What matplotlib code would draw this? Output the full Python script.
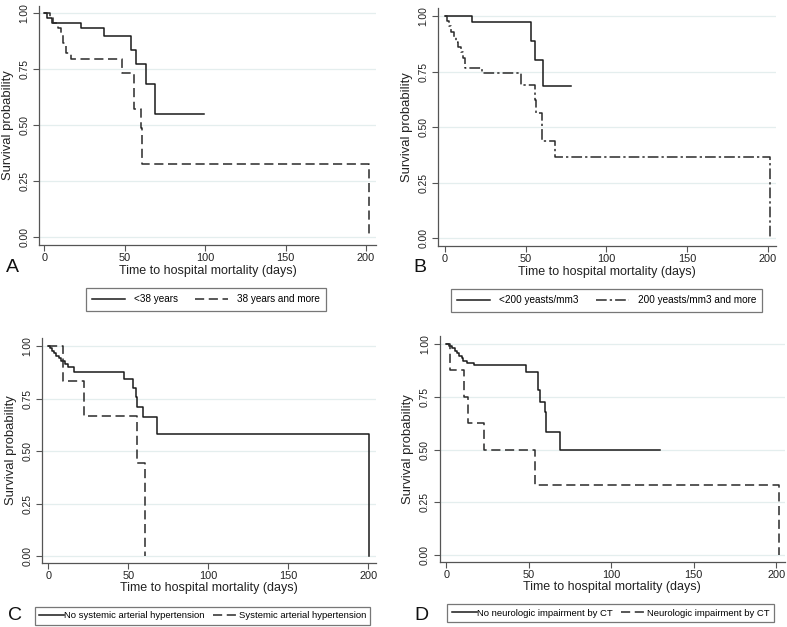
import matplotlib
matplotlib.use("Agg")
import matplotlib.pyplot as plt
from matplotlib.lines import Line2D

plt.rcParams['font.family'] = ['Liberation Sans', 'DejaVu Sans']

# ---------------- data ----------------
A_young_t = [0, 1.5, 5, 23, 37, 54, 57, 63, 69, 99]
A_young_s = [1.0, 0.978, 0.955, 0.933, 0.90, 0.836, 0.772, 0.686, 0.549, 0.549]
A_old_t = [0, 3.5, 5.6, 8.7, 10.2, 11.8, 13.5, 16.4, 48, 56, 60, 61, 202]
A_old_s = [1.0, 0.978, 0.956, 0.933, 0.91, 0.866, 0.821, 0.797, 0.735, 0.572, 0.49, 0.327, 0.0]

B_low_t = [0, 17, 53.6, 55.7, 60.8, 78]
B_low_s = [1.0, 0.975, 0.888, 0.80, 0.685, 0.685]
B_high_t = [0, 1.2, 2.5, 4, 5.5, 7, 8.5, 10, 11.5, 12.6, 23, 47.5, 55.7, 56.7, 60.2, 68.5, 201.5]
B_high_s = [1.0, 0.976, 0.953, 0.93, 0.906, 0.883, 0.86, 0.836, 0.813, 0.766, 0.742, 0.69, 0.622, 0.563, 0.438, 0.367, 0.0]

C_no_t = [0, 1, 2, 3.4, 5, 6.7, 8.1, 10.2, 12.3, 15.8, 47.5, 53, 54.8, 55.5, 59, 67.7, 200.4]
C_no_s = [1.0, 0.989, 0.978, 0.965, 0.952, 0.941, 0.929, 0.914, 0.898, 0.878, 0.843, 0.80, 0.755, 0.711, 0.66, 0.579, 0.0]
C_yes_t = [0, 9.4, 22.5, 55.2, 60.4]
C_yes_s = [1.0, 0.833, 0.667, 0.444, 0.0]

D_no_t = [0, 1.8, 3.2, 5.3, 6.7, 7.9, 9.3, 10.3, 12.3, 16.8, 48, 55.8, 56.5, 59.6, 60.6, 68.7, 129.3]
D_no_s = [1.0, 0.99, 0.981, 0.967, 0.956, 0.943, 0.932, 0.92, 0.912, 0.902, 0.869, 0.78, 0.727, 0.68, 0.585, 0.498, 0.498]
D_yes_t = [0, 2, 10.7, 13, 22.8, 54, 201.4]
D_yes_s = [1.0, 0.875, 0.75, 0.625, 0.5, 0.333, 0.0]

x_ticks = [0, 50, 100, 150, 200]
y_ticks = [0.0, 0.25, 0.5, 0.75, 1.0]
y_ticklabels = ["0.00", "0.25", "0.50", "0.75", "1.00"]
x_label = "Time to hospital mortality (days)"
y_label = "Survival probability"

panels = [
    dict(letter="A",
         series=[(A_young_t, A_young_s, "<38 years", "solid"),
                 (A_old_t, A_old_s, "38 years and more", "dash")]),
    dict(letter="B",
         series=[(B_low_t, B_low_s, "<200 yeasts/mm3", "solid"),
                 (B_high_t, B_high_s, "200 yeasts/mm3 and more", "dashdot")]),
    dict(letter="C",
         series=[(C_no_t, C_no_s, "No systemic arterial hypertension", "solid"),
                 (C_yes_t, C_yes_s, "Systemic arterial hypertension", "dash")]),
    dict(letter="D",
         series=[(D_no_t, D_no_s, "No neurologic impairment by CT", "solid"),
                 (D_yes_t, D_yes_s, "Neurologic impairment by CT", "dash")]),
]

# ---------------- layout (pixels) ----------------
W, H = 787, 627
fig = plt.figure(figsize=(W / 100, H / 100), dpi=100)
fig.patch.set_facecolor("white")

# left, right, top, bottom spine pixels; pixel of x=0, x=200, y=1, y=0
geom = {
    "A": (39, 376, 6, 245, 44.3, 366.0, 13.3, 237.3),
    "B": (438, 776, 8, 246, 444.7, 768.0, 16.0, 238.3),
    "C": (42.3, 376, 338, 562.7, 48.3, 368.3, 346.0, 556.0),
    "D": (439.7, 785, 336, 561.7, 446.3, 776.3, 344.0, 555.0),
}
legend_box = {  # center x, center y in pixels
    "A": (206, 299.5),
    "B": (606.5, 300),
    "C": (202.5, 616),
    "D": (610.5, 613),
}
letter_pos = {"A": (12, 267), "B": (420, 267), "C": (15, 616), "D": (421, 615)}

styles = {
    "solid": dict(color="#1a1a1a", linestyle="-"),
    "dash": dict(color="#2a2a2a", dashes=(6, 3)),
    "dashdot": dict(color="#2a2a2a", dashes=(7, 2, 1.5, 2)),
}

spine_col = "#555555"
grid_col = "#e4eeee"

for p in panels:
    L = p["letter"]
    l, r, t, b, x0, x200, y1, y0 = geom[L]
    ax = fig.add_axes([l / W, 1 - b / H, (r - l) / W, (b - t) / H])
    ppd = (x200 - x0) / 200.0
    ppu = (y0 - y1) / 1.0
    ax.set_xlim((l - x0) / ppd, (r - x0) / ppd)
    ax.set_ylim((y0 - b) / ppu, (y0 - t) / ppu)
    for s in ["top", "right"]:
        ax.spines[s].set_visible(False)
    for s in ["left", "bottom"]:
        ax.spines[s].set_color(spine_col)
        ax.spines[s].set_linewidth(0.9)
    ax.set_xticks(x_ticks)
    ax.set_yticks(y_ticks)
    ax.set_yticklabels(y_ticklabels, rotation=90, va="center")
    ax.tick_params(axis="both", direction="out", length=4, width=0.8,
                   color=spine_col, labelcolor="#222222", pad=2)
    ax.tick_params(axis="x", labelsize=7.9)
    ax.tick_params(axis="y", labelsize=7.4, pad=3)
    for yv in y_ticks:
        ax.axhline(yv, color=grid_col, linewidth=0.9, zorder=0)
    ax.set_xlabel(x_label, fontsize=9.0, color="#222222", labelpad=1)
    ax.set_ylabel(y_label, fontsize=9.4, color="#222222", labelpad=4)

    handles = []
    for tt, ss, lab, sty in p["series"]:
        kw = styles[sty]
        ax.step(tt, ss, where="post", linewidth=1.1, **kw)
        handles.append(Line2D([], [], linewidth=1.1, **kw))
    labels = [s[2] for s in p["series"]]

    cx, cy = legend_box[L]
    small = L in ("C", "D")
    leg = fig.legend(handles, labels, loc="center",
                     bbox_to_anchor=(cx / W, 1 - cy / H),
                     ncol=2, fontsize=6.8 if small else 7.2,
                     frameon=True, fancybox=False,
                     handlelength=2.7 if small else 3.3,
                     handletextpad=0.0 if small else 0.9,
                     columnspacing=0.9 if small else 1.7,
                     borderpad=0.45 if small else 0.65,
                     borderaxespad=0)
    leg.get_frame().set_edgecolor("#555555")
    leg.get_frame().set_linewidth(0.9)
    lx, ly = letter_pos[L]
    fig.text(lx / W, 1 - ly / H, L, fontsize=14, ha="center", va="center", color="#111111")

fig.savefig("out.png", dpi=100)
